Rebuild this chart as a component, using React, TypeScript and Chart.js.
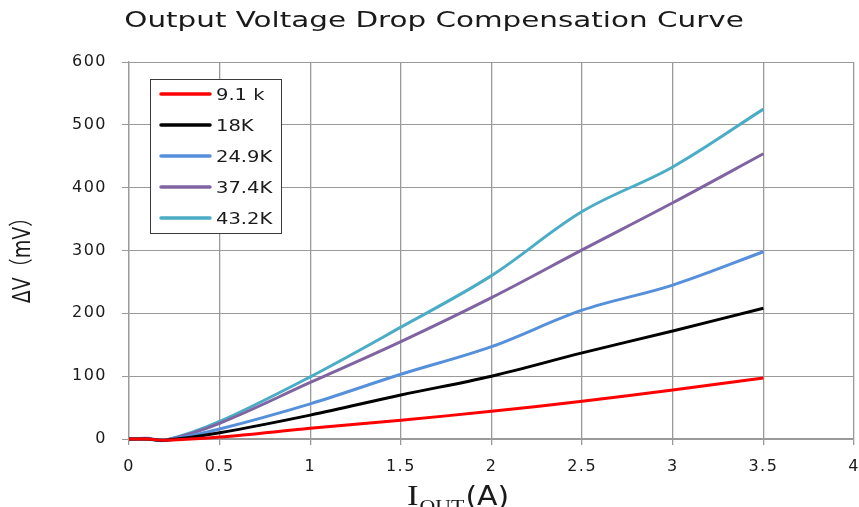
import { useEffect, useRef } from "react";
import { Chart, registerables } from "chart.js";

Chart.register(...registerables);

const TITLE = "Output Voltage Drop Compensation Curve";
const X_TITLE_MAIN = "I";
const X_TITLE_SUB = "OUT";
const X_TITLE_UNIT = "(A)";
const Y_TITLE = "ΔV（mV）";

const I_OUT = [0, 0.1, 0.2, 0.5, 1, 1.5, 2, 2.5, 3, 3.5];
const SERIES_LABELS = ["9.1 k", "18K", "24.9K", "37.4K", "43.2K"];
const DV_9_1K = [0, 0, -2, 3, 17, 30, 44, 60, 78, 97];
const DV_18K = [0, 0, -2, 10, 38, 70, 100, 137, 172, 208];
const DV_24_9K = [0, 0, -2, 16, 56, 103, 147, 205, 245, 298];
const DV_37_4K = [0, 1, -2, 25, 90, 155, 225, 301, 376, 454];
const DV_43_2K = [0, 0, -2, 28, 99, 178, 260, 362, 433, 525];
const SERIES_VALUES = [DV_9_1K, DV_18K, DV_24_9K, DV_37_4K, DV_43_2K];
const SERIES_COLORS = ["#FF0000", "#000000", "#5690DA", "#8064A2", "#4BACC6"];

const X_TICKS = [0, 0.5, 1, 1.5, 2, 2.5, 3, 3.5, 4];
const Y_TICKS = [0, 100, 200, 300, 400, 500, 600];

const SANS = '"DejaVu Sans", "Noto Sans CJK SC", sans-serif';
const SERIF = '"Liberation Serif", serif';
const TEXT_COLOR = "#1a1a1a";
const GRID_COLOR = "#9a9a9a";

function stretchText(
  ctx: CanvasRenderingContext2D,
  text: string,
  x: number,
  y: number,
  font: string,
  sx: number,
  align: "left" | "center" | "right",
  color: string
) {
  ctx.save();
  (ctx as any).letterSpacing = "0px";
  ctx.font = font;
  ctx.fillStyle = color;
  ctx.textAlign = "left";
  ctx.textBaseline = "alphabetic";
  const w = ctx.measureText(text).width * sx;
  const x0 = align === "center" ? x - w / 2 : align === "right" ? x - w : x;
  ctx.translate(x0, y);
  ctx.scale(sx, 1);
  ctx.fillText(text, 0, 0);
  ctx.restore();
  return w;
}

const textPlugin = {
  id: "stretchedTexts",
  beforeUpdate(chart: any) {
    (chart.ctx as any).letterSpacing = "1.5px";
  },
  beforeDraw(chart: any) {
    (chart.ctx as any).letterSpacing = "1.5px";
  },
  afterDraw(chart: any) {
    const ctx: CanvasRenderingContext2D = chart.ctx;
    const area = chart.chartArea;

    // Title
    stretchText(ctx, TITLE, 434, 27, `21px ${SANS}`, 1.4, "center", TEXT_COLOR);

    // X title: I_OUT(A)
    let x = 407;
    x += stretchText(ctx, X_TITLE_MAIN, x, 505, `30px ${SERIF}`, 1.15, "left", TEXT_COLOR);
    x += 1;
    x += stretchText(ctx, X_TITLE_SUB, x, 513, `19px ${SERIF}`, 1.15, "left", TEXT_COLOR);
    x += 1;
    stretchText(ctx, X_TITLE_UNIT, x, 505, `26px ${SANS}`, 1.15, "left", TEXT_COLOR);

    // Y title (rotated)
    ctx.save();
    (ctx as any).letterSpacing = "0px";
    ctx.translate(24, (area.top + area.bottom) / 2 + 5);
    ctx.scale(1.3, 1);
    ctx.rotate(-Math.PI / 2);
    ctx.font = `19px ${SANS}`;
    ctx.fillStyle = TEXT_COLOR;
    ctx.textAlign = "center";
    ctx.textBaseline = "middle";
    ctx.fillText(Y_TITLE, 0, 0);
    ctx.restore();

    // Legend box
    const lx = 150.5;
    const ly = 79.5;
    const lw = 131;
    const lh = 154;
    ctx.save();
    ctx.fillStyle = "#ffffff";
    ctx.fillRect(lx, ly, lw, lh);
    ctx.strokeStyle = "#3a3a3a";
    ctx.lineWidth = 1;
    ctx.strokeRect(lx, ly, lw, lh);
    chart.data.datasets.forEach((ds: any, i: number) => {
      const cy = 94 + i * 31;
      ctx.strokeStyle = ds.borderColor;
      ctx.lineWidth = 3.5;
      ctx.lineCap = "round";
      ctx.beginPath();
      ctx.moveTo(161, cy);
      ctx.lineTo(210, cy);
      ctx.stroke();
      stretchText(ctx, ds.label, 216, cy + 6, `16px ${SANS}`, 1.22, "left", TEXT_COLOR);
    });
    ctx.restore();
  },
};

export default function App() {
  const canvasRef = useRef<HTMLCanvasElement | null>(null);

  useEffect(() => {
    const canvas = canvasRef.current;
    if (!canvas) return;
    const datasets = SERIES_LABELS.map((label, i) => ({
      label,
      data: I_OUT.map((xv, j) => ({ x: xv, y: SERIES_VALUES[i][j] })),
      borderColor: SERIES_COLORS[i],
      backgroundColor: SERIES_COLORS[i],
      borderWidth: 3,
      pointRadius: 0,
      tension: 0.35,
      fill: false,
      clip: 6,
    }));
    const chart = new Chart(canvas, {
      type: "line",
      data: { datasets },
      options: {
        responsive: false,
        animation: false,
        devicePixelRatio: 1,
        layout: { padding: { left: 0, right: 5, top: 62, bottom: 0 } },
        plugins: {
          legend: { display: false },
          title: { display: false },
          tooltip: { enabled: false },
        },
        scales: {
          x: {
            type: "linear",
            min: 0,
            max: 4,
            afterBuildTicks: (scale: any) => {
              scale.ticks = X_TICKS.map((v) => ({ value: v }));
            },
            afterFit: (scale: any) => {
              scale.height = 68;
              scale.paddingLeft = 0;
              scale.paddingRight = 0;
            },
            grid: {
              color: GRID_COLOR,
              lineWidth: 1.3,
              tickLength: 6,
              drawTicks: true,
            },
            border: { color: GRID_COLOR, width: 1.3 },
            ticks: {
              padding: 12,
              color: TEXT_COLOR,
              font: { family: SANS, size: 16 },
              maxRotation: 0,
              autoSkip: false,
              callback: (v: any) => String(v),
            },
          },
          y: {
            type: "linear",
            min: 0,
            max: 600,
            afterBuildTicks: (scale: any) => {
              scale.ticks = Y_TICKS.map((v) => ({ value: v }));
            },
            afterFit: (scale: any) => {
              scale.width = 129;
              scale.paddingTop = 0;
              scale.paddingBottom = 0;
            },
            grid: {
              color: GRID_COLOR,
              lineWidth: 1,
              tickLength: 7,
              drawTicks: true,
            },
            border: { color: GRID_COLOR, width: 1.3 },
            ticks: {
              padding: 15,
              color: TEXT_COLOR,
              font: { family: SANS, size: 16 },
              autoSkip: false,
              callback: (v: any) => String(v),
            },
          },
        },
      },
      plugins: [textPlugin],
    } as any);
    return () => chart.destroy();
  }, []);

  return (
    <div style={{ position: "absolute", left: 0, top: 0, width: 859, height: 507, background: "#fff" }}>
      <canvas ref={canvasRef} width={859} height={507} />
    </div>
  );
}
